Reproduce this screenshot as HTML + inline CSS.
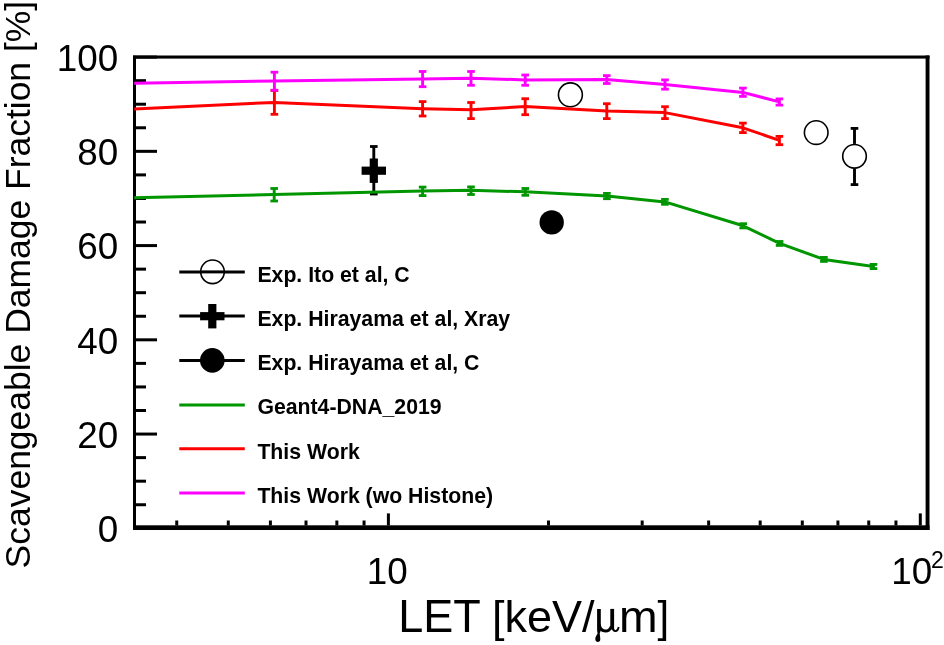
<!DOCTYPE html><html><head><meta charset="utf-8"><style>html,body{margin:0;padding:0;background:#fff;width:944px;height:645px;overflow:hidden}svg{display:block;will-change:transform}text{font-family:"Liberation Sans",sans-serif}</style></head><body>
<svg width="944" height="645" viewBox="0 0 944 645">
<rect width="944" height="645" fill="#fff"/>
<rect x="133" y="55.5" width="796.5" height="3.1" fill="#000"/>
<rect x="133" y="525.3" width="796.5" height="4.7" fill="#000"/>
<rect x="133" y="55.5" width="3" height="474.5" fill="#000"/>
<rect x="925.6" y="55.5" width="3.9" height="474.5" fill="#000"/>
<line x1="136" y1="528.30" x2="157" y2="528.30" stroke="#000" stroke-width="3"/>
<line x1="136" y1="504.74" x2="146" y2="504.74" stroke="#000" stroke-width="3"/>
<line x1="136" y1="481.18" x2="146" y2="481.18" stroke="#000" stroke-width="3"/>
<line x1="136" y1="457.62" x2="146" y2="457.62" stroke="#000" stroke-width="3"/>
<line x1="136" y1="434.06" x2="157" y2="434.06" stroke="#000" stroke-width="3"/>
<line x1="136" y1="410.50" x2="146" y2="410.50" stroke="#000" stroke-width="3"/>
<line x1="136" y1="386.94" x2="146" y2="386.94" stroke="#000" stroke-width="3"/>
<line x1="136" y1="363.38" x2="146" y2="363.38" stroke="#000" stroke-width="3"/>
<line x1="136" y1="339.82" x2="157" y2="339.82" stroke="#000" stroke-width="3"/>
<line x1="136" y1="316.26" x2="146" y2="316.26" stroke="#000" stroke-width="3"/>
<line x1="136" y1="292.70" x2="146" y2="292.70" stroke="#000" stroke-width="3"/>
<line x1="136" y1="269.14" x2="146" y2="269.14" stroke="#000" stroke-width="3"/>
<line x1="136" y1="245.58" x2="157" y2="245.58" stroke="#000" stroke-width="3"/>
<line x1="136" y1="222.02" x2="146" y2="222.02" stroke="#000" stroke-width="3"/>
<line x1="136" y1="198.46" x2="146" y2="198.46" stroke="#000" stroke-width="3"/>
<line x1="136" y1="174.90" x2="146" y2="174.90" stroke="#000" stroke-width="3"/>
<line x1="136" y1="151.34" x2="157" y2="151.34" stroke="#000" stroke-width="3"/>
<line x1="136" y1="127.78" x2="146" y2="127.78" stroke="#000" stroke-width="3"/>
<line x1="136" y1="104.22" x2="146" y2="104.22" stroke="#000" stroke-width="3"/>
<line x1="136" y1="80.66" x2="146" y2="80.66" stroke="#000" stroke-width="3"/>
<line x1="136" y1="57.10" x2="157" y2="57.10" stroke="#000" stroke-width="3"/>
<line x1="176.74" y1="525.5" x2="176.74" y2="520.5" stroke="#000" stroke-width="3"/>
<line x1="228.28" y1="525.5" x2="228.28" y2="520.5" stroke="#000" stroke-width="3"/>
<line x1="270.40" y1="525.5" x2="270.40" y2="520.5" stroke="#000" stroke-width="3"/>
<line x1="306.01" y1="525.5" x2="306.01" y2="520.5" stroke="#000" stroke-width="3"/>
<line x1="336.85" y1="525.5" x2="336.85" y2="520.5" stroke="#000" stroke-width="3"/>
<line x1="364.06" y1="525.5" x2="364.06" y2="520.5" stroke="#000" stroke-width="3"/>
<line x1="548.52" y1="525.5" x2="548.52" y2="520.5" stroke="#000" stroke-width="3"/>
<line x1="642.18" y1="525.5" x2="642.18" y2="520.5" stroke="#000" stroke-width="3"/>
<line x1="708.64" y1="525.5" x2="708.64" y2="520.5" stroke="#000" stroke-width="3"/>
<line x1="760.18" y1="525.5" x2="760.18" y2="520.5" stroke="#000" stroke-width="3"/>
<line x1="802.30" y1="525.5" x2="802.30" y2="520.5" stroke="#000" stroke-width="3"/>
<line x1="837.91" y1="525.5" x2="837.91" y2="520.5" stroke="#000" stroke-width="3"/>
<line x1="868.75" y1="525.5" x2="868.75" y2="520.5" stroke="#000" stroke-width="3"/>
<line x1="895.96" y1="525.5" x2="895.96" y2="520.5" stroke="#000" stroke-width="3"/>
<line x1="388.40" y1="525.5" x2="388.40" y2="513.4" stroke="#000" stroke-width="3"/>
<line x1="920.30" y1="525.5" x2="920.30" y2="513.4" stroke="#000" stroke-width="3"/>
<text x="118.2" y="542.20" font-size="36.8" text-anchor="end">0</text>
<text x="118.2" y="447.96" font-size="36.8" text-anchor="end">20</text>
<text x="118.2" y="353.72" font-size="36.8" text-anchor="end">40</text>
<text x="118.2" y="259.48" font-size="36.8" text-anchor="end">60</text>
<text x="118.2" y="165.24" font-size="36.8" text-anchor="end">80</text>
<text x="118.2" y="71.00" font-size="36.8" text-anchor="end">100</text>
<text x="387.3" y="583.8" font-size="36.8" text-anchor="middle">10</text>
<text x="891.3" y="583.8" font-size="36.8">10</text><text x="931.0" y="567.8" font-size="23">2</text>
<text transform="translate(30.1,568.4) rotate(-90) scale(0.999,1.0)" font-size="35.5">Scavengeable Damage Fraction [%]</text>
<text transform="translate(398.3,632.2) scale(1,1.03)" font-size="45">LET</text>
<text x="491.9" y="632.2" font-size="45">[keV/</text>
<text transform="translate(619.0,632.2) scale(1.03,1.0)" font-size="45">m</text>
<text transform="translate(657.6,632.2) scale(0.93,1.0)" font-size="45">]</text>
<g fill="#000"><path d="M597.1,608.9 L600.8,608.9 L600.8,630.5 L599.7,633.6 C599.9,635.5 600.3,637.3 600.3,639.3 C600.3,641 599.3,641.9 597.9,641.9 C596.7,641.9 595.4,641.2 595.3,639.2 C595.2,637 596.6,635.5 597.6,633.6 L597.1,630.5 Z"/><rect x="610.3" y="608.9" width="3.8" height="20.5"/></g><path d="M599.2,624.5 C600.3,630 603,631.1 605.5,631.1 C608.2,631.1 610.3,629.2 611.5,626.2" fill="none" stroke="#000" stroke-width="3"/><path d="M612.5,627.5 C613,630.5 614.5,631.2 615.9,631 C617.4,630.7 618.3,629.2 618.7,627" fill="none" stroke="#000" stroke-width="1.8"/>
<circle cx="570.4" cy="94.8" r="11.95" fill="none" stroke="#000" stroke-width="1.6"/>
<circle cx="816.2" cy="132.6" r="11.8" fill="none" stroke="#000" stroke-width="1.6"/>
<line x1="854.5" y1="128.4" x2="854.5" y2="143.9" stroke="#000" stroke-width="2.9"/><line x1="854.5" y1="168.70000000000002" x2="854.5" y2="184.6" stroke="#000" stroke-width="2.9"/><rect x="850.7" y="127.0" width="7.6" height="2.8" fill="#000"/><rect x="850.7" y="183.2" width="7.6" height="2.8" fill="#000"/>
<circle cx="854.5" cy="156.3" r="11.8" fill="none" stroke="#000" stroke-width="1.6"/>
<circle cx="551.7" cy="222.4" r="12.15" fill="#000"/>
<line x1="373.8" y1="146.5" x2="373.8" y2="194" stroke="#000" stroke-width="2.9"/><rect x="370.00" y="145.10" width="7.6" height="2.8" fill="#000"/><rect x="370.00" y="192.60" width="7.6" height="2.8" fill="#000"/>
<rect x="361.60" y="166.60" width="24.4" height="8.2" fill="#000"/><rect x="369.70" y="158.50" width="8.2" height="24.4" fill="#000"/>
<defs><clipPath id="fr"><rect x="134.2" y="57" width="793.3" height="470.5"/></clipPath></defs>
<g clip-path="url(#fr)">
<path d="M120,198.2 L274.2,194.6 L422.6,190.9 L471,190.3 L525.3,191.8 L606.9,196.0 L664.9,201.9 L743.2,225.8 L779.6,243.4 L823.9,259.4 L873.5,266.4" fill="none" stroke="#009600" stroke-width="3" stroke-linejoin="round"/><line x1="274.2" y1="188.5" x2="274.2" y2="201" stroke="#009600" stroke-width="2.9"/><rect x="270.40" y="187.10" width="7.6" height="2.8" fill="#009600"/><rect x="270.40" y="199.60" width="7.6" height="2.8" fill="#009600"/><line x1="422.6" y1="187.1" x2="422.6" y2="195.6" stroke="#009600" stroke-width="2.9"/><rect x="418.80" y="185.70" width="7.6" height="2.8" fill="#009600"/><rect x="418.80" y="194.20" width="7.6" height="2.8" fill="#009600"/><line x1="471" y1="186.9" x2="471" y2="194.5" stroke="#009600" stroke-width="2.9"/><rect x="467.20" y="185.50" width="7.6" height="2.8" fill="#009600"/><rect x="467.20" y="193.10" width="7.6" height="2.8" fill="#009600"/><line x1="525.3" y1="188.5" x2="525.3" y2="195.3" stroke="#009600" stroke-width="2.9"/><rect x="521.50" y="187.10" width="7.6" height="2.8" fill="#009600"/><rect x="521.50" y="193.90" width="7.6" height="2.8" fill="#009600"/><line x1="606.9" y1="193.4" x2="606.9" y2="198.7" stroke="#009600" stroke-width="2.9"/><rect x="603.10" y="192.00" width="7.6" height="2.8" fill="#009600"/><rect x="603.10" y="197.30" width="7.6" height="2.8" fill="#009600"/><line x1="664.9" y1="199.4" x2="664.9" y2="204.3" stroke="#009600" stroke-width="2.9"/><rect x="661.10" y="198.00" width="7.6" height="2.8" fill="#009600"/><rect x="661.10" y="202.90" width="7.6" height="2.8" fill="#009600"/><line x1="743.2" y1="223.7" x2="743.2" y2="227.9" stroke="#009600" stroke-width="2.9"/><rect x="739.40" y="222.30" width="7.6" height="2.8" fill="#009600"/><rect x="739.40" y="226.50" width="7.6" height="2.8" fill="#009600"/><line x1="779.6" y1="241.5" x2="779.6" y2="245.4" stroke="#009600" stroke-width="2.9"/><rect x="775.80" y="240.10" width="7.6" height="2.8" fill="#009600"/><rect x="775.80" y="244.00" width="7.6" height="2.8" fill="#009600"/><line x1="823.9" y1="257.4" x2="823.9" y2="261.4" stroke="#009600" stroke-width="2.9"/><rect x="820.10" y="256.00" width="7.6" height="2.8" fill="#009600"/><rect x="820.10" y="260.00" width="7.6" height="2.8" fill="#009600"/><line x1="873.5" y1="264.4" x2="873.5" y2="268.6" stroke="#009600" stroke-width="2.9"/><rect x="869.70" y="263.00" width="7.6" height="2.8" fill="#009600"/><rect x="869.70" y="267.20" width="7.6" height="2.8" fill="#009600"/>
<path d="M120,109.6 L274.4,102.4 L422.6,108.7 L471,109.8 L525.2,106.5 L606.8,110.9 L665,112.6 L742.9,127.8 L779.4,140.3" fill="none" stroke="#ff0000" stroke-width="3" stroke-linejoin="round"/><line x1="274.4" y1="90.5" x2="274.4" y2="114.3" stroke="#ff0000" stroke-width="2.9"/><rect x="270.60" y="89.10" width="7.6" height="2.8" fill="#ff0000"/><rect x="270.60" y="112.90" width="7.6" height="2.8" fill="#ff0000"/><line x1="422.6" y1="101.6" x2="422.6" y2="116" stroke="#ff0000" stroke-width="2.9"/><rect x="418.80" y="100.20" width="7.6" height="2.8" fill="#ff0000"/><rect x="418.80" y="114.60" width="7.6" height="2.8" fill="#ff0000"/><line x1="471" y1="102.5" x2="471" y2="118.6" stroke="#ff0000" stroke-width="2.9"/><rect x="467.20" y="101.10" width="7.6" height="2.8" fill="#ff0000"/><rect x="467.20" y="117.20" width="7.6" height="2.8" fill="#ff0000"/><line x1="525.2" y1="98.7" x2="525.2" y2="114.7" stroke="#ff0000" stroke-width="2.9"/><rect x="521.40" y="97.30" width="7.6" height="2.8" fill="#ff0000"/><rect x="521.40" y="113.30" width="7.6" height="2.8" fill="#ff0000"/><line x1="606.8" y1="103.7" x2="606.8" y2="118.6" stroke="#ff0000" stroke-width="2.9"/><rect x="603.00" y="102.30" width="7.6" height="2.8" fill="#ff0000"/><rect x="603.00" y="117.20" width="7.6" height="2.8" fill="#ff0000"/><line x1="665" y1="106.7" x2="665" y2="118.6" stroke="#ff0000" stroke-width="2.9"/><rect x="661.20" y="105.30" width="7.6" height="2.8" fill="#ff0000"/><rect x="661.20" y="117.20" width="7.6" height="2.8" fill="#ff0000"/><line x1="742.9" y1="123.1" x2="742.9" y2="132.6" stroke="#ff0000" stroke-width="2.9"/><rect x="739.10" y="121.70" width="7.6" height="2.8" fill="#ff0000"/><rect x="739.10" y="131.20" width="7.6" height="2.8" fill="#ff0000"/><line x1="779.4" y1="136.4" x2="779.4" y2="144.7" stroke="#ff0000" stroke-width="2.9"/><rect x="775.60" y="135.00" width="7.6" height="2.8" fill="#ff0000"/><rect x="775.60" y="143.30" width="7.6" height="2.8" fill="#ff0000"/>
<path d="M120,83.4 L274.4,80.9 L422.6,79.1 L471,78.2 L525.2,79.9 L606.8,79.4 L665,84.6 L742.9,92.4 L779.4,101.9" fill="none" stroke="#ff00ff" stroke-width="3" stroke-linejoin="round"/><line x1="274.4" y1="72.2" x2="274.4" y2="90.2" stroke="#ff00ff" stroke-width="2.9"/><rect x="270.60" y="70.80" width="7.6" height="2.8" fill="#ff00ff"/><rect x="270.60" y="88.80" width="7.6" height="2.8" fill="#ff00ff"/><line x1="422.6" y1="71.5" x2="422.6" y2="86.7" stroke="#ff00ff" stroke-width="2.9"/><rect x="418.80" y="70.10" width="7.6" height="2.8" fill="#ff00ff"/><rect x="418.80" y="85.30" width="7.6" height="2.8" fill="#ff00ff"/><line x1="471" y1="71.5" x2="471" y2="85.3" stroke="#ff00ff" stroke-width="2.9"/><rect x="467.20" y="70.10" width="7.6" height="2.8" fill="#ff00ff"/><rect x="467.20" y="83.90" width="7.6" height="2.8" fill="#ff00ff"/><line x1="525.2" y1="75" x2="525.2" y2="85.3" stroke="#ff00ff" stroke-width="2.9"/><rect x="521.40" y="73.60" width="7.6" height="2.8" fill="#ff00ff"/><rect x="521.40" y="83.90" width="7.6" height="2.8" fill="#ff00ff"/><line x1="606.8" y1="75.6" x2="606.8" y2="83.5" stroke="#ff00ff" stroke-width="2.9"/><rect x="603.00" y="74.20" width="7.6" height="2.8" fill="#ff00ff"/><rect x="603.00" y="82.10" width="7.6" height="2.8" fill="#ff00ff"/><line x1="665" y1="79.9" x2="665" y2="89.2" stroke="#ff00ff" stroke-width="2.9"/><rect x="661.20" y="78.50" width="7.6" height="2.8" fill="#ff00ff"/><rect x="661.20" y="87.80" width="7.6" height="2.8" fill="#ff00ff"/><line x1="742.9" y1="88.1" x2="742.9" y2="96.4" stroke="#ff00ff" stroke-width="2.9"/><rect x="739.10" y="86.70" width="7.6" height="2.8" fill="#ff00ff"/><rect x="739.10" y="95.00" width="7.6" height="2.8" fill="#ff00ff"/><line x1="779.4" y1="98.9" x2="779.4" y2="105.1" stroke="#ff00ff" stroke-width="2.9"/><rect x="775.60" y="97.50" width="7.6" height="2.8" fill="#ff00ff"/><rect x="775.60" y="103.70" width="7.6" height="2.8" fill="#ff00ff"/>
</g>
<line x1="179.3" y1="271.9" x2="244.8" y2="271.9" stroke="#000" stroke-width="3"/>
<text x="257.4" y="282.00" font-size="21.25" font-weight="bold">Exp. Ito et al, C</text>
<line x1="179.3" y1="316.1" x2="244.8" y2="316.1" stroke="#000" stroke-width="3"/>
<text x="257.4" y="326.00" font-size="21.25" font-weight="bold">Exp. Hirayama et al, Xray</text>
<line x1="179.3" y1="360.4" x2="244.8" y2="360.4" stroke="#000" stroke-width="3"/>
<text x="257.4" y="370.00" font-size="21.25" font-weight="bold">Exp. Hirayama et al, C</text>
<line x1="179.3" y1="404.9" x2="244.8" y2="404.9" stroke="#009600" stroke-width="3"/>
<text x="257.4" y="413.90" font-size="21.25" font-weight="bold">Geant4-DNA_2019</text>
<line x1="179.3" y1="448.8" x2="244.8" y2="448.8" stroke="#ff0000" stroke-width="3"/>
<text x="257.4" y="458.90" font-size="21.25" font-weight="bold">This Work</text>
<line x1="179.3" y1="493.0" x2="244.8" y2="493.0" stroke="#ff00ff" stroke-width="3"/>
<text x="257.4" y="502.90" font-size="21.25" font-weight="bold">This Work (wo Histone)</text>
<circle cx="212.5" cy="271.8" r="11.8" fill="#fff" stroke="#000" stroke-width="1.6"/>
<line x1="200" y1="271.9" x2="225" y2="271.9" stroke="#000" stroke-width="3"/>
<rect x="200.10" y="312.10" width="24.4" height="8.2" fill="#000"/><rect x="208.20" y="304.00" width="8.2" height="24.4" fill="#000"/>
<circle cx="212.3" cy="360.4" r="12.3" fill="#000"/>
</svg></body></html>
